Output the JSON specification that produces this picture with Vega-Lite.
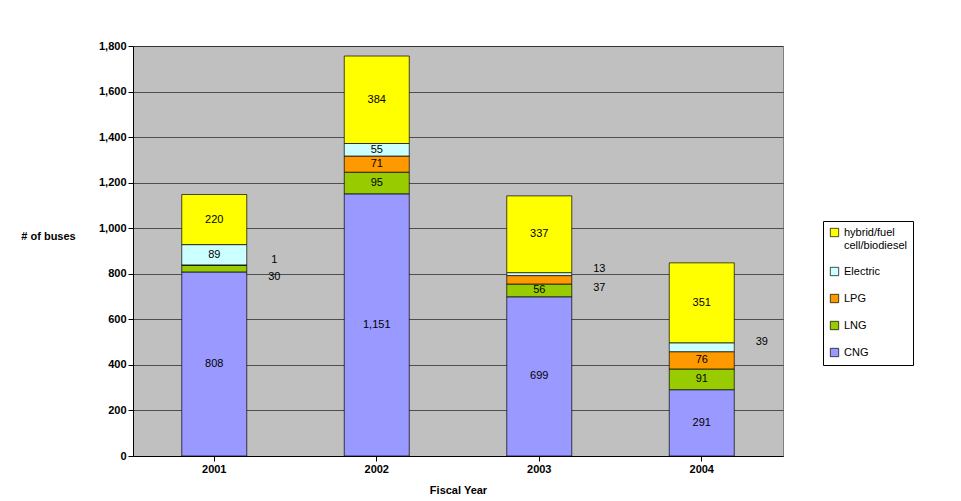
{
  "$schema": "https://vega.github.io/schema/vega-lite/v6.json",
  "width": 650,
  "height": 410,
  "padding": {"left": 20, "top": 40, "right": 5, "bottom": 5},
  "background": "white",
  "config": {
    "view": {"fill": "#C0C0C0", "stroke": "#808080"},
    "font": "Liberation Sans",
    "axis": {"labelFont": "Liberation Sans", "titleFont": "Liberation Sans", "labelFontSize": 11, "labelFontWeight": "bold", "titleFontSize": 11, "titleFontWeight": "bold", "labelColor": "black", "titleColor": "black", "domainColor": "black", "tickColor": "black"}
  },
  "data": {
    "values": [
      {"year": "2001", "type": "CNG", "o": 1, "v": 808},
      {"year": "2001", "type": "LNG", "o": 2, "v": 30},
      {"year": "2001", "type": "LPG", "o": 3, "v": 1},
      {"year": "2001", "type": "Electric", "o": 4, "v": 89},
      {"year": "2001", "type": "hybrid/fuel cell/biodiesel", "o": 5, "v": 220},
      {"year": "2002", "type": "CNG", "o": 1, "v": 1151},
      {"year": "2002", "type": "LNG", "o": 2, "v": 95},
      {"year": "2002", "type": "LPG", "o": 3, "v": 71},
      {"year": "2002", "type": "Electric", "o": 4, "v": 55},
      {"year": "2002", "type": "hybrid/fuel cell/biodiesel", "o": 5, "v": 384},
      {"year": "2003", "type": "CNG", "o": 1, "v": 699},
      {"year": "2003", "type": "LNG", "o": 2, "v": 56},
      {"year": "2003", "type": "LPG", "o": 3, "v": 37},
      {"year": "2003", "type": "Electric", "o": 4, "v": 13},
      {"year": "2003", "type": "hybrid/fuel cell/biodiesel", "o": 5, "v": 337},
      {"year": "2004", "type": "CNG", "o": 1, "v": 291},
      {"year": "2004", "type": "LNG", "o": 2, "v": 91},
      {"year": "2004", "type": "LPG", "o": 3, "v": 76},
      {"year": "2004", "type": "Electric", "o": 4, "v": 39},
      {"year": "2004", "type": "hybrid/fuel cell/biodiesel", "o": 5, "v": 351}
    ]
  },
  "transform": [
    {"stack": "v", "groupby": ["year"], "sort": [{"field": "o"}], "as": ["v0", "v1"]},
    {"calculate": "(datum.v0 + datum.v1) / 2", "as": "mid"}
  ],
  "encoding": {
    "x": {"field": "year", "type": "nominal", "title": "Fiscal Year", "scale": {"paddingInner": 0.6, "paddingOuter": 0.3}, "axis": {"labelAngle": 0, "grid": false, "titlePadding": 10}}
  },
  "layer": [
    {
      "mark": {"type": "bar", "stroke": "black", "strokeWidth": 0.7},
      "encoding": {
        "y": {"field": "v0", "type": "quantitative", "scale": {"domain": [0, 1800]}, "title": "# of buses", "axis": {"values": [0,200,400,600,800,1000,1200,1400,1600,1800], "labelExpr": "format(datum.value, ',')", "gridColor": "black", "gridWidth": 0.6, "titleAngle": 0, "titleX": -85, "titleY": 195}},
        "y2": {"field": "v1"},
        "color": {
          "field": "type", "type": "nominal",
          "scale": {"domain": ["hybrid/fuel cell/biodiesel", "Electric", "LPG", "LNG", "CNG"], "range": ["#FFFF00", "#CCFFFF", "#FF9900", "#99CC00", "#9999FF"]},
          "legend": {"title": null, "orient": "none", "legendX": 690, "legendY": 175, "symbolType": "square", "symbolStrokeColor": "black", "symbolStrokeWidth": 0.7, "symbolSize": 70, "labelFontSize": 11, "rowPadding": 14, "strokeColor": "black", "padding": 6, "fillColor": "white", "labelLimit": 200,
            "labelExpr": "datum.label == 'hybrid/fuel cell/biodiesel' ? ['hybrid/fuel', 'cell/biodiesel'] : datum.label"}
        },
        "order": {"field": "o"}
      }
    },
    {
      "transform": [{"filter": "datum.v >= 50"}],
      "mark": {"type": "text", "fontSize": 11},
      "encoding": {"y": {"field": "mid", "type": "quantitative"}, "text": {"field": "v", "type": "quantitative", "format": ","}}
    },
    {
      "transform": [{"filter": "datum.v < 50 && !((datum.year == '2001' && datum.type == 'LNG') || (datum.year == '2003' && datum.type == 'LPG'))"}],
      "mark": {"type": "text", "fontSize": 11, "dx": 60, "dy": -5},
      "encoding": {"y": {"field": "mid", "type": "quantitative"}, "text": {"field": "v", "type": "quantitative"}}
    },
    {
      "transform": [{"filter": "(datum.year == '2001' && datum.type == 'LNG') || (datum.year == '2003' && datum.type == 'LPG')"}],
      "mark": {"type": "text", "fontSize": 11, "dx": 60, "dy": 8},
      "encoding": {"y": {"field": "mid", "type": "quantitative"}, "text": {"field": "v", "type": "quantitative"}}
    }
  ]
}
